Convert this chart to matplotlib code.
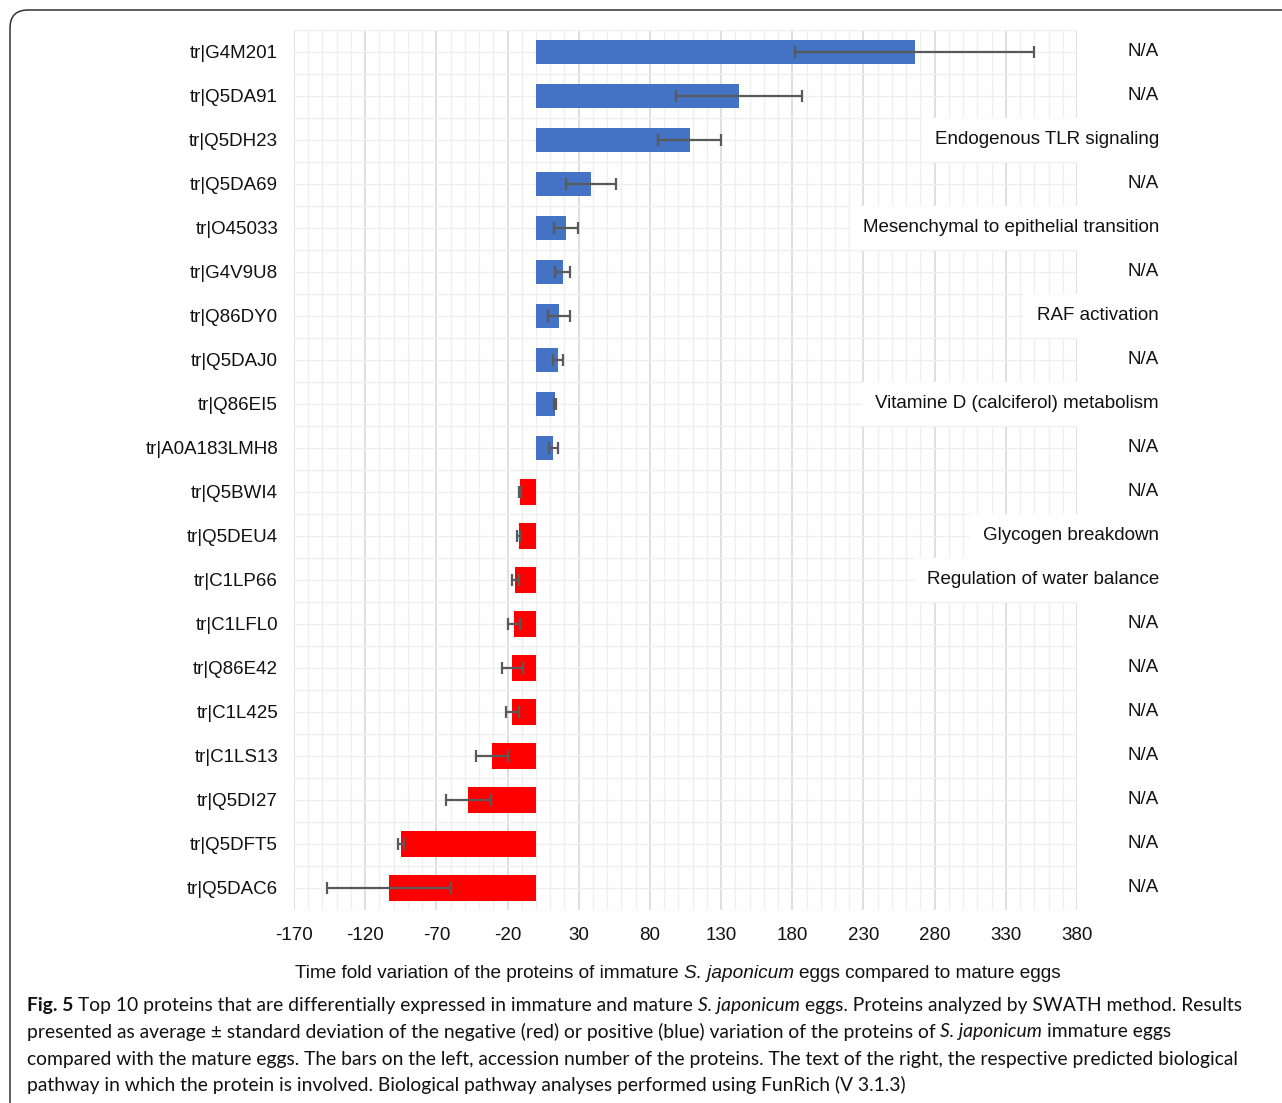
import matplotlib
matplotlib.use("Agg")
import matplotlib.pyplot as plt
from matplotlib.patches import FancyBboxPatch
from matplotlib.transforms import IdentityTransform
import numpy as np

# data
proteins = ["tr|G4M201", "tr|Q5DA91", "tr|Q5DH23", "tr|Q5DA69", "tr|O45033",
            "tr|G4V9U8", "tr|Q86DY0", "tr|Q5DAJ0", "tr|Q86EI5", "tr|A0A183LMH8",
            "tr|Q5BWI4", "tr|Q5DEU4", "tr|C1LP66", "tr|C1LFL0", "tr|Q86E42",
            "tr|C1L425", "tr|C1LS13", "tr|Q5DI27", "tr|Q5DFT5", "tr|Q5DAC6"]
fold = [266, 142.6, 108, 38.6, 21, 18.7, 16.2, 15.2, 13.3, 12.2,
        -11.2, -12.2, -14.5, -15.5, -16.6, -16.6, -30.9, -47.5, -94.6, -103.3]
sd = [84, 44, 22, 17.5, 8.5, 5.5, 8, 3.5, 1, 3,
      1, 1, 2.6, 4.2, 7.4, 4.7, 11.2, 15.8, 2, 43.5]
pathways = ["N/A", "N/A", "Endogenous TLR signaling", "N/A",
            "Mesenchymal to epithelial transition", "N/A", "RAF activation", "N/A",
            "Vitamine D (calciferol) metabolism", "N/A", "N/A", "Glycogen breakdown",
            "Regulation of water balance", "N/A", "N/A", "N/A", "N/A", "N/A", "N/A", "N/A"]
xticks = [-170, -120, -70, -20, 30, 80, 130, 180, 230, 280, 330, 380]

W, H = 1282, 1103
fig = plt.figure(figsize=(W / 100, H / 100), dpi=100)
ax = fig.add_axes([294 / W, 1 - 910 / H, (1077 - 294) / W, (910 - 30) / H])

font = "Liberation Sans"
ink = "#111111"
y = np.arange(len(proteins))
fold = np.array(fold)
blue = fold > 0
ax.barh(y[blue], fold[blue], height=0.53, color="#4472C4", zorder=2)
ax.barh(y[~blue], fold[~blue], height=0.6, color="#FF0000", zorder=2)
ax.errorbar(fold, y, xerr=sd, fmt="none", ecolor="#595959", elinewidth=1.6,
            capsize=4, capthick=1.6, zorder=3)

ax.set_xlim(-170, 380)
ax.set_ylim(19.5, -0.5)
ax.set_xticks(xticks)
ax.set_xticks(np.arange(-170, 381, 10), minor=True)
ax.set_yticks(y)
ax.set_yticks(np.arange(-0.5, 20, 1), minor=True)
ax.set_yticklabels(proteins, fontsize=13.5, family=font, color=ink)
ax.set_xticklabels([str(v) for v in xticks], fontsize=13.5, family=font, color=ink)
ax.tick_params(which="both", length=0)
ax.tick_params(axis="y", pad=11.5)
ax.tick_params(axis="x", pad=12)
ax.grid(axis="x", which="major", color="#d9d9d9", lw=1.2, zorder=0)
ax.grid(axis="x", which="minor", color="#efefef", lw=1.0, zorder=0)
ax.grid(axis="y", which="both", color="#efefef", lw=1.0, zorder=0)
for s in ax.spines.values():
    s.set_visible(False)
ax.set_axisbelow(True)

# pathway labels on the right, white boxes hide grid
for i, p in enumerate(pathways):
    yy = ax.transData.transform((0, i))[1] / H
    fig.text(1159 / W, yy, p, ha="right", va="center", fontsize=13.5, family=font,
             color=ink, bbox=dict(boxstyle="square,pad=0.7", fc="white", ec="none"))

renderer = fig.canvas.get_renderer()


def put_runs(x, y, parts, size, family, color=ink):
    # draw pieces of text one after the other with a space between
    probe = fig.text(0, 0, "x x", fontsize=size, family=family)
    probe2 = fig.text(0, 0, "xx", fontsize=size, family=family)
    sp = probe.get_window_extent(renderer).width - probe2.get_window_extent(renderer).width
    probe.remove()
    probe2.remove()
    for txt, style, weight in parts:
        t = fig.text(x / W, y / H, txt, fontsize=size, family=family, style=style,
                     weight=weight, va="center", color=color)
        x += t.get_window_extent(renderer).width + sp


put_runs(295, H - 973, [("Time fold variation of the proteins of immature", "normal", "normal"),
                        ("S. japonicum", "italic", "normal"),
                        ("eggs compared to mature eggs", "normal", "normal")], 13.7, font)

cap = "Lato"
cs = 13.9
put_runs(27, H - 1005, [("Fig. 5", "normal", "bold"),
                        ("Top 10 proteins that are differentially expressed in immature and mature", "normal", "normal"),
                        ("S. japonicum", "italic", "normal"),
                        ("eggs. Proteins analyzed by SWATH method. Results", "normal", "normal")], cs, cap)
put_runs(27, H - 1032, [("presented as average \u00b1 standard deviation of the negative (red) or positive (blue) variation of the proteins of", "normal", "normal"),
                        ("S. japonicum", "italic", "normal"),
                        ("immature eggs", "normal", "normal")], cs, cap)
put_runs(27, H - 1059, [("compared with the mature eggs. The bars on the left, accession number of the proteins. The text of the right, the respective predicted biological", "normal", "normal")], cs, cap)
put_runs(27, H - 1085, [("pathway in which the protein is involved. Biological pathway analyses performed using FunRich (V 3.1.3)", "normal", "normal")], cs, cap)

# rounded frame round the whole figure
frame = FancyBboxPatch((10, -40), 1320, H - 10 + 40, boxstyle="round,pad=0,rounding_size=18",
                       transform=IdentityTransform(), fc="none", ec="#333333", lw=1.1)
fig.patches.append(frame)

fig.savefig("out.png", dpi=100)
